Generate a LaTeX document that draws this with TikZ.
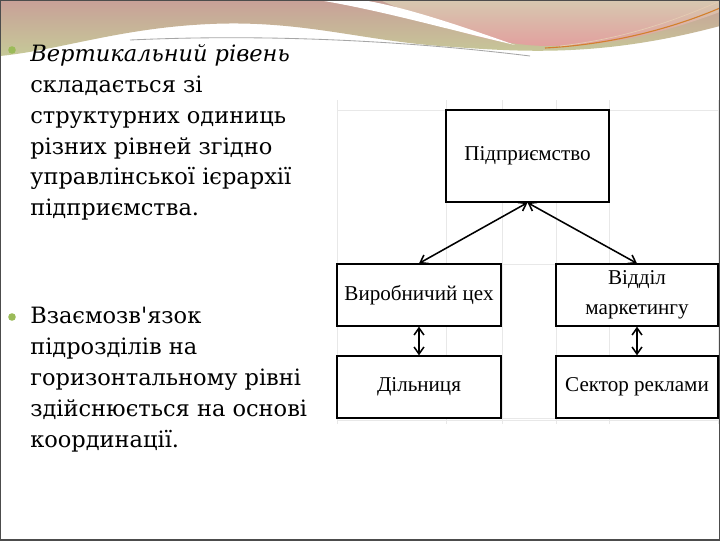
\documentclass[tikz,border=0pt]{standalone}
\usepackage{fontspec}
\setmainfont{Liberation Serif}
\newfontfamily\textofont{DejaVu Serif}
\usetikzlibrary{arrows.meta}

\definecolor{cimatop}{RGB}{200,160,152}
\definecolor{cimabot}{RGB}{198,203,152}
\definecolor{rosa}{RGB}{226,160,158}
\definecolor{beige}{RGB}{214,200,176}
\definecolor{verdepunto}{RGB}{155,187,89}

\tikzstyle{unidad}= [rectangle,draw,black,line width=0.9pt,fill=white,align=center,inner sep=0pt,font=\fontsize{15}{21}\selectfont]
\tikzstyle{enlace}= [black,line width=1.1pt,{Straight Barb[length=5pt,width=7pt]}-{Straight Barb[length=5pt,width=7pt]}]
\tikzstyle{guia}= [gray!18,line width=0.4pt]
\tikzstyle{punto}= [circle,fill=verdepunto,inner sep=0pt,minimum size=0.19cm]
\tikzstyle{texto}= [anchor=north west,align=left,inner sep=0pt,font=\textofont\fontsize{16}{22}\selectfont]

\begin{document}
\begin{tikzpicture}[x=0.025cm,y=-0.025cm]

		\useasboundingbox (0,0) rectangle (720,540);
		\fill[white] (0,0) rectangle (720,540);

		% cabecera
		\shade[top color=cimatop,bottom color=cimabot] (0,0) -- (720,0) -- (720,26)
			.. controls (600,58) and (520,52) .. (440,46)
			.. controls (360,40) and (300,20) .. (210,24)
			.. controls (120,28) and (60,50) .. (0,56) -- cycle;
		\shade[top color=beige,bottom color=rosa] (380,0) -- (720,0) -- (720,12)
			.. controls (660,34) and (610,46) .. (545,46)
			.. controls (480,44) and (430,22) .. (380,0) -- cycle;
		\fill[white] (318,0) .. controls (380,10) and (450,30) .. (515,45)
			.. controls (450,22) and (400,6) .. (362,0) -- cycle;
		\draw[brown!70!orange,line width=0.8pt] (545,48) .. controls (620,44) and (680,25) .. (720,8);
		\draw[brown!40,line width=0.5pt] (560,46) .. controls (630,38) and (680,18) .. (718,2);
		\draw[gray!70,line width=0.6pt] (130,40) .. controls (260,34) and (400,40) .. (530,56);
		\draw[brown!60!black,line width=1.5pt] (0,0) -- (720,0);

		% guias del esquema
		\draw[guia] (337,110) -- (718,110);
		\draw[guia] (337,420) -- (718,420);
		\draw[guia] (502,264) -- (556,264);
		\draw[guia] (502,418) -- (556,418);
		\foreach \gx in {337,446,502,556,609,718}
			\draw[guia] (\gx,100) -- (\gx,424);

		% texto
		\node (p1) at (12,50) [punto] {};
		\node (t1) at (30,44) [texto] {\textit{Вертикальний рівень}\\складається зі\\структурних одиниць\\різних рівней згідно\\управлінської ієрархії\\підприємства.};
		\node (p2) at (12,317) [punto] {};
		\node (t2) at (30,307) [texto] {Взаємозв\char39 язок\\підрозділів на\\горизонтальному рівні\\здійснюється на основі\\координації.};

		% esquema
		\node (pid) at (527.5,156) [unidad,minimum width=4.075cm,minimum height=2.3cm] {Підприємство};
		\node (cex) at (419,295) [unidad,minimum width=4.1cm,minimum height=1.55cm] {Виробничий цех};
		\node (mar) at (637,295) [unidad,minimum width=4.05cm,minimum height=1.55cm] {Відділ\\маркетингу};
		\node (dil) at (419,387) [unidad,minimum width=4.1cm,minimum height=1.55cm] {Дільниця};
		\node (sek) at (637,387) [unidad,minimum width=4.05cm,minimum height=1.55cm] {Сектор реклами};

		\path[enlace] (pid.south) edge[] node {} (cex.north);
		\path[enlace] (pid.south) edge[] node {} (mar.north);
		\path[enlace] (cex) edge[] node {} (dil);
		\path[enlace] (mar) edge[] node {} (sek);

		\draw[gray!60!black,line width=1pt] (0,0) rectangle (720,540);

	\end{tikzpicture}
\end{document}
